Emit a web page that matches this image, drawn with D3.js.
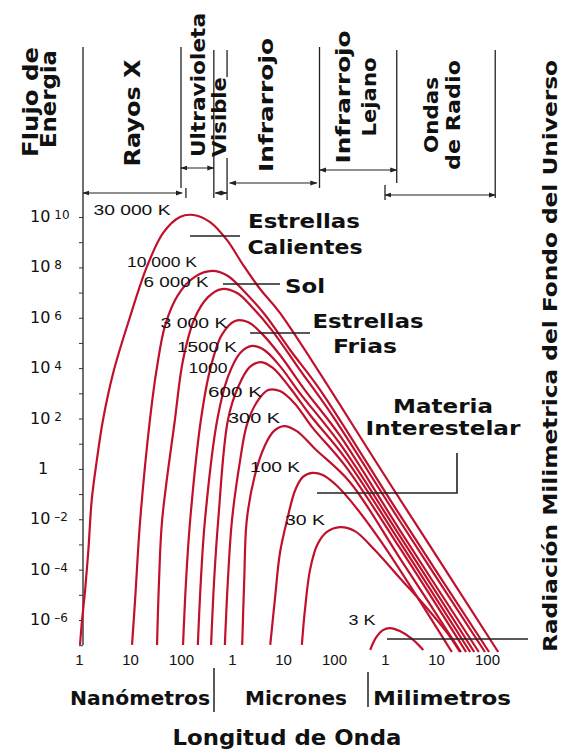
<!DOCTYPE html>
<meta charset="utf-8">
<style>
body { margin: 0; background: #fff; }
text { font-family: "DejaVu Sans", sans-serif; fill: #111; }
.bold { font-weight: bold; }
.thin { font-family: "Liberation Sans", sans-serif; }
.axis text { font-family: "Liberation Sans", sans-serif; font-size: 15px; fill: #111; }
.axis line { stroke: #333; }
</style>
<body>
<svg id="chart" width="567" height="754"></svg>
<script src="https://d3js.org/d3.v7.min.js"></script>
<script>
// curves: [log10 wavelength (nm), log10 energy flux]
var t30000 = [[0.02,-6.99],[0.06,-6.00],[0.12,-4.81],[0.18,-3.34],[0.25,-1.23],[0.35,0.35],[0.47,1.94],[0.67,3.81],[1.00,6.03],[1.33,8.02],[1.65,9.37],[1.98,10.00],[2.24,10.08],[2.57,9.80],[2.90,9.09],[3.22,8.09],[3.55,7.14],[3.94,6.19],[6.10,-0.60],[8.22,-7.27]];
var t10000 = [[1.04,-6.99],[1.10,-5.20],[1.20,-2.03],[1.39,1.94],[1.53,4.05],[1.69,5.71],[1.94,6.90],[2.27,7.62],[2.61,7.86],[2.92,7.66],[3.25,7.02],[3.65,6.11],[4.14,4.72],[4.73,3.13],[6.29,-1.83],[8.04,-7.27]];
var t6000 = [[1.53,-6.99],[1.57,-4.41],[1.63,-2.03],[1.88,1.94],[2.04,4.32],[2.27,5.99],[2.53,6.82],[2.80,7.14],[3.10,6.98],[3.39,6.43],[3.78,5.51],[4.33,3.93],[4.92,2.26],[6.29,-2.07],[7.96,-7.27]];
var t3000 = [[2.04,-6.99],[2.10,-4.41],[2.18,-2.03],[2.39,1.94],[2.57,3.93],[2.80,5.32],[3.06,5.87],[3.31,5.83],[3.59,5.36],[3.94,4.52],[4.43,3.13],[5.12,1.31],[6.29,-2.43],[7.84,-7.27]];
var t1500 = [[2.33,-6.99],[2.39,-4.41],[2.47,-2.03],[2.71,1.94],[2.92,3.65],[3.16,4.60],[3.39,4.88],[3.63,4.72],[3.94,4.08],[4.33,3.01],[5.12,0.99],[6.29,-2.66],[7.75,-7.27]];
var t1000 = [[2.59,-6.99],[2.65,-4.41],[2.73,-2.03],[2.92,1.94],[3.12,3.25],[3.35,4.05],[3.57,4.24],[3.80,4.01],[4.14,3.21],[4.53,2.14],[5.22,0.43],[6.29,-2.90],[7.67,-7.27]];
var t600 = [[2.86,-6.99],[2.92,-4.41],[3.00,-2.03],[3.16,0.35],[3.29,1.74],[3.49,2.66],[3.71,3.13],[3.94,3.09],[4.22,2.62],[4.57,1.66],[5.22,0.12],[6.29,-3.14],[7.59,-7.27]];
var t300 = [[3.20,-6.99],[3.24,-4.41],[3.29,-2.03],[3.45,-0.24],[3.65,0.95],[3.82,1.50],[4.02,1.70],[4.27,1.50],[4.63,0.79],[5.31,-0.52],[6.29,-3.54],[7.49,-7.27]];
var t100 = [[3.75,-6.99],[3.84,-5.20],[3.94,-3.34],[4.08,-2.03],[4.24,-0.84],[4.39,-0.32],[4.57,-0.16],[4.78,-0.24],[5.02,-0.60],[5.31,-1.23],[5.90,-2.82],[7.31,-7.27]];
var t30 = [[4.37,-6.99],[4.43,-5.60],[4.53,-4.01],[4.67,-3.02],[4.86,-2.50],[5.12,-2.31],[5.41,-2.47],[5.80,-3.22],[6.29,-4.33],[6.82,-5.52],[7.22,-6.51],[7.47,-7.27]];
var t3 = [[5.71,-7.19],[5.82,-6.71],[5.96,-6.40],[6.10,-6.32],[6.29,-6.44],[6.53,-6.75],[6.75,-7.19]];
var curves = [t30000, t10000, t6000, t3000, t1500, t1000, t600, t300, t100, t30, t3];
var curveLabels = ["30 000 K", "10 000 K", "6 000 K", "3 000 K", "1500 K", "1000", "600 K", "300 K", "100 K", "30 K", "3 K"];

// axes
var xTickValues = [1, 10, 100, 1e3, 1e4, 1e5, 1e6, 1e7, 1e8];
var xTickLabels = ["1", "10", "100", "1", "10", "100", "1", "10", "100"];
var yLabelExps = [10, 8, 6, 4, 2, 0, -2, -4, -6];

// spectral bands, wavelength edges in nm
var bandNames = ["Rayos X", "Ultravioleta", "Visible", "Infrarrojo", "Infrarrojo Lejano", "Ondas de Radio"];
var bandFrom = [1.1, 100, 450, 900, 5.2e4, 1e6];
var bandTo = [105, 440, 800, 4.6e4, 1.7e6, 1.45e8];

var svg = d3.select("#chart");
var pow = function(v) { return Math.pow(10, v); };
var x = d3.scaleLog().domain([1, 1e8]).range([79, 487]);
var y = d3.scaleLog().domain([1e-6, 1e10]).range([620, 217]);

var line = d3.line()
    .x(function(d) { return x(pow(d[0])); })
    .y(function(d) { return y(pow(d[1])); })
    .curve(d3.curveCatmullRom.alpha(0.5));

// arrow heads
var defs = svg.append("defs");
defs.append("marker").attr("id", "ah").attr("viewBox", "0 0 10 10")
    .attr("refX", 9).attr("refY", 5).attr("markerWidth", 6).attr("markerHeight", 6)
    .attr("orient", "auto-start-reverse")
  .append("path").attr("d", "M0,1.5L10,5L0,8.5z").attr("fill", "#222");

var ink = "#222";
function seg(x1, y1, x2, y2, w) {
  return svg.append("line").attr("x1", x1).attr("y1", y1).attr("x2", x2).attr("y2", y2)
    .attr("stroke", ink).attr("stroke-width", w || 1.3);
}
function arrow(x1, x2, yy) {
  seg(x1, yy, x2, yy, 1.2).attr("marker-start", "url(#ah)").attr("marker-end", "url(#ah)");
}
function vtext(str, bx, cy, size, len) {
  var t = svg.append("text").attr("class", "bold")
      .attr("transform", "translate(" + bx + "," + cy + ") rotate(-90)")
      .attr("text-anchor", "middle").attr("font-size", size).text(str);
  if (len) t.attr("textLength", len).attr("lengthAdjust", "spacingAndGlyphs");
  return t;
}
function htext(str, cx, by, size, len, cls) {
  var t = svg.append("text").attr("class", cls || "bold")
      .attr("x", cx).attr("y", by).attr("text-anchor", "middle")
      .attr("font-size", size).text(str);
  if (len) t.attr("textLength", len).attr("lengthAdjust", "spacingAndGlyphs");
  return t;
}

// header: band boundaries and ranges
var bx = bandFrom.map(function(v) { return x(v); });
var ex = bandTo.map(function(v) { return x(v); });
seg(83, 47, 83, 645);                       // y axis + left edge of X rays
arrow(83, ex[0], 193);
seg(bx[1], 47, bx[1], 188);
seg(x(125), 188, x(125), 198);
arrow(bx[1], ex[1], 168);
seg(ex[1], 50, ex[1], 198);
arrow(bx[2] + 1, ex[2], 193);
seg(ex[2], 50, ex[2], 77);
seg(ex[2], 158, ex[2], 200);
arrow(bx[3], ex[3], 183);
seg(bx[4], 47, bx[4], 188);
arrow(bx[4], ex[4], 170);
seg(ex[4], 50, ex[4], 183);
seg(bx[5], 185, bx[5], 200);
arrow(bx[5], ex[5], 195);
seg(ex[5], 50, ex[5], 198);

vtext("Flujo de", 38, 102, 21, 110);
vtext("Energia", 56, 99, 21, 98);
vtext(bandNames[0], 140, 113, 21, 107);
vtext(bandNames[1], 205, 85, 19, 144);
vtext(bandNames[2], 226, 117, 19, 80);
vtext(bandNames[3], 273, 105, 20, 134);
vtext("Infrarrojo", 350, 97, 20, 133);
vtext("Lejano", 376, 97, 20, 79);
vtext("Ondas", 438, 115, 20, 76);
vtext("de Radio", 460, 115, 20, 110);
vtext("Radiación Milimetrica del Fondo del Universo", 557, 356, 20, 592);

// y axis ticks and labels
var yAxis = d3.axisLeft(y).tickValues(d3.range(-7, 11).map(pow)).tickSize(4).tickFormat("");
svg.append("g").attr("class", "axis").attr("transform", "translate(83,0)").call(yAxis)
    .call(function(g) { g.select(".domain").remove(); });

var yl = svg.append("g").attr("class", "thin");
yLabelExps.forEach(function(e) {
  var yy = y(pow(e)) + 5;
  if (e === 0) {
    yl.append("text").attr("x", 43).attr("y", yy).attr("text-anchor", "middle")
      .attr("font-size", 16).text("1");
    return;
  }
  var t = yl.append("text").attr("x", 30).attr("y", yy).attr("font-size", 16);
  t.append("tspan").text("10");
  t.append("tspan").attr("dx", 4).attr("dy", -3).attr("font-size", 12)
    .text(e < 0 ? "\u2013" + (-e) : String(e));
});

// x axis labels
var xAxis = d3.axisBottom(x).tickValues(xTickValues).tickSize(0)
    .tickFormat(function(d, i) { return xTickLabels[i]; });
svg.append("g").attr("class", "axis").attr("transform", "translate(0,651)").call(xAxis)
    .call(function(g) { g.select(".domain").remove(); });

// curves
svg.append("g").selectAll("path").data(curves).enter().append("path")
    .attr("d", line)
    .attr("fill", "none")
    .attr("stroke", "#c0102c")
    .attr("stroke-width", 2.2)
    .attr("stroke-linejoin", "round");

// curve labels
var labelPos = [[132, 215, 77], [162, 267, 70], [176, 287, 65], [194, 328, 67], [207, 352, 60],
                [208, 373, 39], [235, 397, 54], [254, 423, 52], [275, 472, 50], [305, 525, 40], [362, 625, 27]];
curveLabels.forEach(function(s, i) {
  var p = labelPos[i];
  htext(s, p[0], p[1], 14, p[2], "thin");
});

// annotations
htext("Estrellas", 304, 228, 20, 112);
htext("Calientes", 305, 254, 20, 115);
seg(190, 236, 240, 236, 1.6);
htext("Sol", 305, 293, 20, 40);
seg(223, 284, 280, 284, 1.6);
htext("Estrellas", 368, 328, 20, 111);
htext("Frias", 365, 353, 20, 64);
seg(250, 333, 310, 333, 1.6);
htext("Materia", 443, 413, 20, 100);
htext("Interestelar", 443, 435, 20, 155);
svg.append("path").attr("d", "M317,493H457V453").attr("fill", "none").attr("stroke", ink).attr("stroke-width", 1.6);
seg(387, 639, 528, 639, 1.6);

// bottom units
htext("Nanómetros", 140, 705, 20, 140);
seg(214, 668, 214, 712, 1.5);
htext("Micrones", 296, 705, 20, 102);
seg(368, 672, 368, 707, 1.5);
htext("Milimetros", 442, 705, 20, 138);
htext("Longitud de Onda", 287, 745, 21, 229);
</script>
</body>
